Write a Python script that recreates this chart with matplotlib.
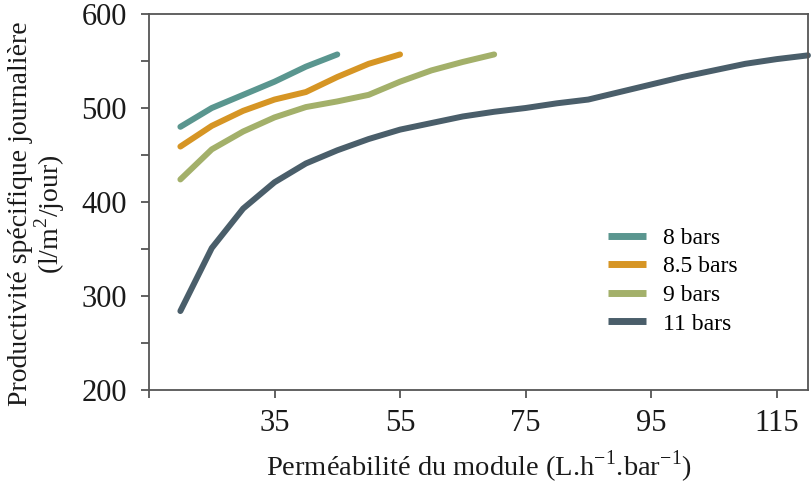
import numpy as np
import matplotlib.pyplot as plt
from matplotlib.ticker import MultipleLocator, FixedLocator

plt.rcParams['font.family'] = ['Liberation Serif', 'DejaVu Serif']
plt.rcParams['mathtext.fontset'] = 'custom'
plt.rcParams['mathtext.rm'] = 'Liberation Serif'

# productivity curves for each feed pressure
x_8 = [20, 25, 30, 35, 40, 45]
y_8 = [480, 500, 514, 528, 544, 557]

x_85 = [20, 25, 30, 35, 40, 45, 50, 55]
y_85 = [459, 481, 497, 509, 517, 533, 547, 557]

x_9 = [20, 25, 30, 35, 40, 45, 50, 55, 60, 65, 70]
y_9 = [424, 456, 475, 490, 501, 507, 514, 528, 540, 549, 557]

x_11 = [20, 25, 30, 35, 40, 45, 50, 55, 60, 65, 70, 75, 80, 85,
        90, 95, 100, 105, 110, 115, 120]
y_11 = [284, 351, 393, 421, 441, 455, 467, 477, 484, 491, 496, 500, 505, 509,
        517, 525, 533, 540, 547, 552, 556]

labels = ['8 bars', '8.5 bars', '9 bars', '11 bars']
colors = ['#5A968F', '#D69524', '#A3B06A', '#4A5E6A']

fig = plt.figure(figsize=(8.12, 4.83), dpi=100)
ax = fig.add_axes([0.1835, 0.1925, 0.8115, 0.7785])

for xs, ys, lab, c in zip([x_8, x_85, x_9, x_11], [y_8, y_85, y_9, y_11],
                          labels, colors):
    ax.plot(xs, ys, color=c, lw=4.3, label=lab, solid_capstyle='round',
            clip_on=False)

ax.set_xlim(15, 120)
ax.set_ylim(200, 600)
ax.xaxis.set_major_locator(FixedLocator([15, 35, 55, 75, 95, 115]))
ax.set_xticklabels(['', '35', '55', '75', '95', '115'])
ax.yaxis.set_major_locator(MultipleLocator(100))
ax.yaxis.set_minor_locator(MultipleLocator(50))

for s in ax.spines.values():
    s.set_color('#555555')
    s.set_linewidth(1.3)
ax.tick_params(which='both', direction='out', length=6, width=1.3,
               color='#555555', labelsize=22, labelcolor='#1a1a1a')
ax.tick_params(axis='y', pad=10)
ax.tick_params(axis='x', pad=8)

ax.set_xlabel(r'Perméabilité du module (L.h$^{\mathrm{-1}}$.bar$^{\mathrm{-1}}$)',
              fontsize=20.5, color='#1a1a1a', labelpad=7)
ax.set_ylabel('Productivité spécifique journalière\n(l/m$^2$/jour)',
              fontsize=20, color='#1a1a1a', linespacing=0.95)
ax.yaxis.set_label_coords(-0.125, 0.468)

leg = ax.legend(loc='center left', bbox_to_anchor=(0.6965, 0.29), frameon=False,
                fontsize=17, handlelength=1.6, handletextpad=0.75,
                labelspacing=0.3, borderpad=0, borderaxespad=0)
for h in leg.get_lines():
    h.set_linewidth(5)
    h.set_solid_capstyle('butt')

fig.savefig('out.png', dpi=100)
